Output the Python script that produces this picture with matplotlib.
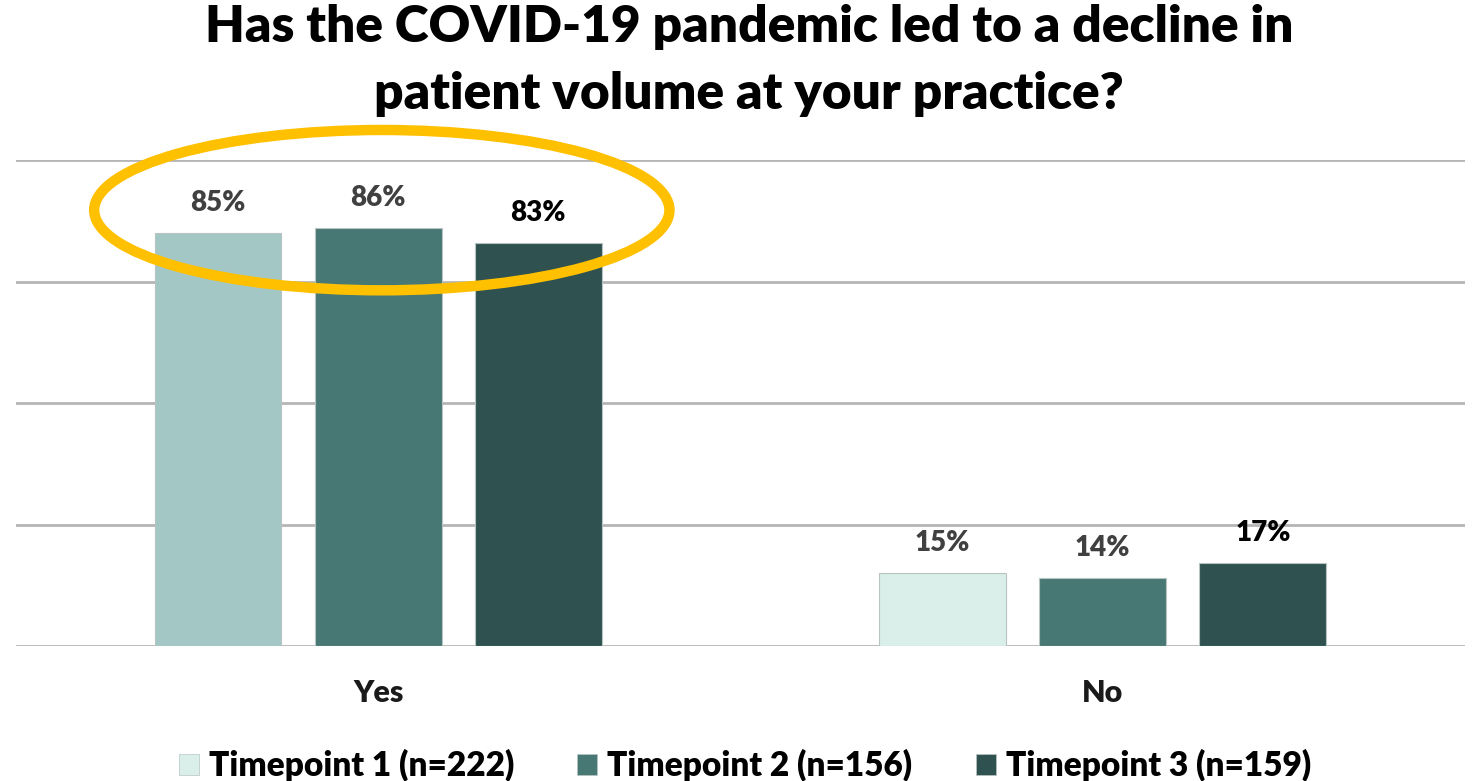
import matplotlib.pyplot as plt
from matplotlib.patches import Ellipse
import numpy as np

plt.rcParams['font.family'] = ['Lato', 'DejaVu Sans']

categories = ["Yes", "No"]
series = ["Timepoint 1 (n=222)", "Timepoint 2 (n=156)", "Timepoint 3 (n=159)"]
values = [
    [0.85, 0.15],
    [0.86, 0.14],
    [0.83, 0.17],
]
labels = [["85%", "15%"], ["86%", "14%"], ["83%", "17%"]]
label_colors = ["#404040", "#404040", "#000000"]
# first series uses a darker tint on the "Yes" bar
bar_colors = [["#A3C7C5", "#DAEFEA"], ["#487874", "#487874"], ["#2F5250", "#2F5250"]]
legend_colors = ["#DAEFEA", "#487874", "#2F5250"]

fig = plt.figure(figsize=(14.75, 7.81), dpi=100)
ax = fig.add_axes([0.0108, 0.1729, 0.9824, 0.6221])

x = np.arange(len(categories))
w = 0.175
step = 0.221
for i in range(len(series)):
    pos = x + (i - 1) * step
    bars = ax.bar(pos, values[i], width=w, color=bar_colors[i],
                  edgecolor="#B8C4C2", linewidth=0.8, zorder=3)
    for b, t in zip(bars, labels[i]):
        ax.text(b.get_x() + b.get_width() / 2, b.get_height() + 0.035, t,
                ha="center", va="bottom", fontsize=20, fontweight="heavy",
                color=label_colors[i], zorder=4)

for yv in [0, 0.25, 0.5, 0.75, 1.0]:
    ax.axhline(yv, color="#B5B5B5", lw=2, zorder=1)

ax.set_xlim(-0.5, 1.5)
ax.set_ylim(0, 1.0)
for s in ax.spines.values():
    s.set_visible(False)
ax.set_yticks([])
ax.set_xticks(x)
ax.set_xticklabels(categories, fontsize=22, fontweight="heavy", color="#1A1A1A")
ax.tick_params(axis="x", length=0, pad=24)

ell = Ellipse((0.005, 0.897), 0.794, 0.33, fill=False, edgecolor="#FFC000",
              lw=7.5, clip_on=False, zorder=5)
ax.add_patch(ell)

handles = [plt.Rectangle((0, 0), 1, 1, facecolor=c, edgecolor="#B8C4C2", lw=0.5)
           for c in legend_colors]
fig.legend(handles, series, loc="center", bbox_to_anchor=(0.505, 0.02),
           ncol=3, frameon=False, prop={"size": 24, "weight": "heavy"},
           handlelength=0.6, handleheight=0.6, handletextpad=0.3, columnspacing=1.9)

fig.text(0.508, 0.995, "Has the COVID-19 pandemic led to a decline in\npatient volume at your practice?",
         ha="center", va="top", fontsize=37, fontweight="heavy", linespacing=1.55)

fig.savefig("out.png", dpi=100)
